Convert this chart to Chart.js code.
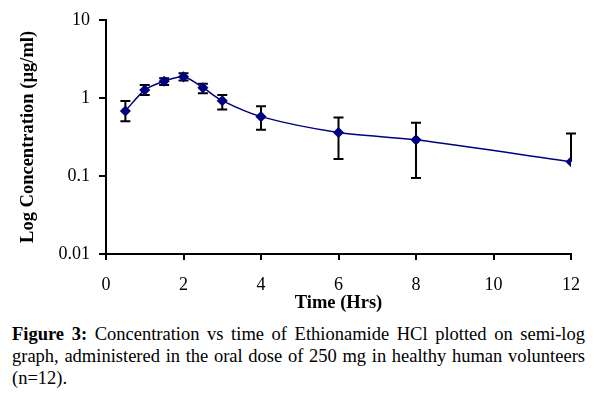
<!DOCTYPE html>
<html>
<head>
<meta charset="utf-8">
<script src="https://cdn.jsdelivr.net/npm/chart.js@4"></script>
<style>
  html, body { margin:0; padding:0; background:#fff; }
  #wrap { position:relative; width:598px; height:395px; overflow:hidden; }
  #c { position:absolute; left:0; top:0; }
  #cap { position:absolute; left:12px; top:323px; width:573px; font-family:'Liberation Serif','Times New Roman',serif; font-size:18.5px; line-height:22px; text-align:justify; color:#000; }
  #cap b { font-weight:bold; }
</style>
</head>
<body>
<div id="wrap">
  <canvas id="c" width="598" height="318"></canvas>
  <div id="cap"><b>Figure 3:</b> Concentration vs time of Ethionamide HCl plotted on semi-log graph, administered in the oral dose of 250 mg in healthy human volunteers (n=12).</div>
</div>
<script>
const times = [0.5, 1, 1.5, 2, 2.5, 3, 4, 6, 8, 12];
const means = [0.68, 1.26, 1.63, 1.86, 1.35, 0.92, 0.575, 0.36, 0.29, 0.152];
const upper = [0.91, 1.46, 1.79, 2.07, 1.52, 1.09, 0.78, 0.56, 0.48, 0.35];
const lower = [0.50, 1.09, 1.46, 1.67, 1.15, 0.71, 0.39, 0.165, 0.094, null];
const yTicks = [0.01, 0.1, 1, 10];
const xLabel = 'Time (Hrs)';
const yLabel = 'Log Concentration (\u00b5g/ml)';

const FONT = "'Liberation Serif','Times New Roman',serif";
const navy = '#000080';

const errorBars = {
  id: 'errorBars',
  beforeDatasetsDraw(chart) {
    const ctx = chart.ctx, xs = chart.scales.x, ys = chart.scales.y;
    ctx.save();
    ctx.strokeStyle = '#000';
    ctx.lineWidth = 2;
    for (let i = 0; i < times.length; i++) {
      const px = xs.getPixelForValue(times[i]);
      const pm = ys.getPixelForValue(means[i]);
      const pt = ys.getPixelForValue(upper[i]);
      const pb = lower[i] != null ? ys.getPixelForValue(lower[i]) : pm;
      ctx.beginPath();
      ctx.moveTo(px, pt); ctx.lineTo(px, pb);
      ctx.moveTo(px - 5, pt); ctx.lineTo(px + 5, pt);
      if (lower[i] != null) { ctx.moveTo(px - 5, pb); ctx.lineTo(px + 5, pb); }
      ctx.stroke();
    }
    ctx.restore();
  }
};

new Chart(document.getElementById('c'), {
  type: 'line',
  data: {
    datasets: [{
      data: times.map((t, i) => ({ x: t, y: means[i] })),
      borderColor: navy,
      backgroundColor: navy,
      borderWidth: 1.5,
      tension: 0.3,
      pointStyle: 'rectRot',
      pointRadius: 4.5,
      pointBackgroundColor: navy,
      pointBorderColor: navy,
      fill: false
    }]
  },
  options: {
    responsive: false,
    animation: false,
    devicePixelRatio: 1,
    layout: { padding: { left: 0, right: 27, top: 18, bottom: 0 } },
    plugins: { legend: { display: false }, tooltip: { enabled: false } },
    scales: {
      x: {
        type: 'linear', min: 0, max: 12,
        ticks: { stepSize: 2, color: '#000', font: { family: FONT, size: 18 }, padding: 14, maxRotation: 0 },
        grid: { drawOnChartArea: false, drawTicks: true, tickLength: 6, color: '#000', lineWidth: 2 },
        border: { color: '#000', width: 2 },
        title: { display: true, text: xLabel, color: '#000', font: { family: FONT, size: 18.5, weight: 'bold' }, padding: { top: 0, bottom: 4 } },
        afterFit(s) { s.height = 64; }
      },
      y: {
        type: 'logarithmic', min: 0.01, max: 10,
        afterBuildTicks(s) { s.ticks = yTicks.map(v => ({ value: v })); },
        ticks: { color: '#000', font: { family: FONT, size: 18 }, padding: 9, callback: v => String(v) },
        grid: { drawOnChartArea: false, drawTicks: true, tickLength: 7, color: '#000', lineWidth: 2 },
        border: { color: '#000', width: 2 },
        title: { display: true, text: yLabel, color: '#000', font: { family: FONT, size: 18.5, weight: 'bold' }, padding: { top: 17, bottom: 0 } },
        afterFit(s) { s.width = 106; }
      }
    }
  },
  plugins: [errorBars]
});
</script>
</body>
</html>
